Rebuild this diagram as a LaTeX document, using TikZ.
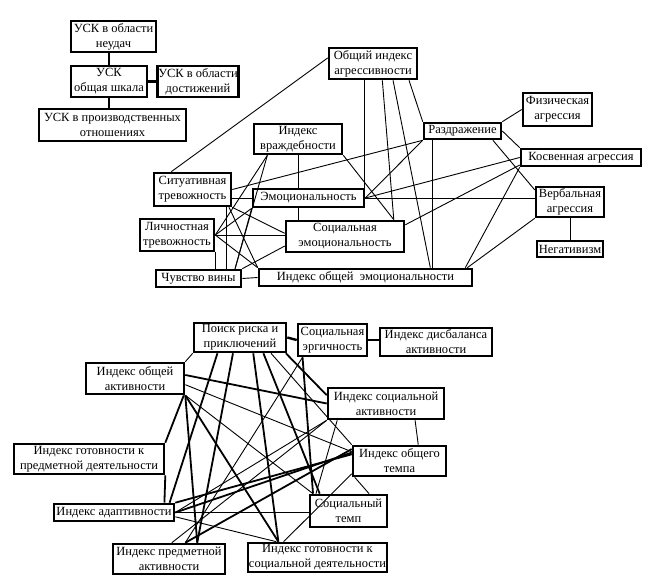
\documentclass[tikz,border=0pt]{standalone}
\usepackage{fontspec}
\setmainfont{Liberation Serif}
\usetikzlibrary{positioning}
\tikzset{
  factor/.style={
    draw=black,
    line width=2.6pt,
    fill=white,
    align=center,
    inner sep=0.5pt,
    font=\fontsize{12.5}{15}\selectfont
  },
  sz/.style 2 args={minimum width=#1pt, minimum height=#2pt},
  tie/.style={line width=2.4pt},
  rel/.style={line width=0.9pt},
  strong/.style={line width=1.8pt},
  weak/.style={line width=0.9pt}
}

\begin{document}
\begin{tikzpicture}[x=1pt, y=-1pt]
  \useasboundingbox (0,0) rectangle (655,588);

  % -------------------------------------------------------------------
  % USK
  % -------------------------------------------------------------------
  \node[factor, sz={85}{31}] (neudach) at (113.5,36.5) {УСК в области\\неудач};
  \node[factor, sz={76}{31}] (obsh) at (109,81.5) {УСК\\общая шкала};
  \node[factor, sz={80}{31}] (dost) at (198,81.5) {УСК в области\\достижений};
  \node[factor, sz={147}{32}] (proizv) at (112.5,125) {УСК в производственных\\отношениях};
  \draw[tie] (obsh.north) -- (obsh.north |- neudach.south);
  \draw[tie] (obsh.east) -- (dost.west);
  \draw[tie] (obsh.south) -- (obsh.south |- proizv.north);

  % -------------------------------------------------------------------
  % emotions and aggression
  % -------------------------------------------------------------------
  \node[factor, sz={88}{31}] (agr) at (373,63.5) {Общий индекс\\агрессивности};
  \node[factor, sz={69}{33}] (fiz) at (557.5,109.5) {Физическая\\агрессия};
  \node[factor, sz={77}{16}] (razdr) at (462.5,131) {Раздражение};
  \node[factor, sz={120}{17}] (kosv) at (581,157.5) {Косвенная агрессия};
  \node[factor, sz={68}{30}] (verb) at (570,202) {Вербальная\\агрессия};
  \node[factor, sz={66}{16}] (neg) at (570,249) {Негативизм};
  \node[factor, sz={88}{30}] (vrazhd) at (298,139) {Индекс\\враждебности};
  \node[factor, sz={77}{33}] (sit) at (192.5,189.5) {Ситуативная\\тревожность};
  \node[factor, sz={111}{18}] (emo) at (308.5,198) {Эмоциональность};
  \node[factor, sz={74}{32}] (lich) at (177,235) {Личностная\\тревожность};
  \node[factor, sz={118}{31}] (semo) at (345,236.5) {Социальная\\эмоциональность};
  \node[factor, sz={85}{17}] (vina) at (198.5,278.5) {Чувство вины};
  \node[factor, sz={213}{17}] (iobem) at (365.5,277.5) {Индекс общей\ \ эмоциональности};

  \draw[rel] (agr.173) -- (sit.140);
  \draw[rel] (agr.244) -- (agr.244 |- emo.north);
  \draw[rel] (agr.299) -- (semo.19);
  \draw[rel] (agr.320) -- ([xshift=-43pt]iobem.north east);
  \draw[rel] (agr.335) -- (razdr.north west);
  \draw[rel] (razdr.north east) -- (fiz.west);
  \draw[rel] (razdr.east) -- (kosv.north west);
  \draw[rel] (razdr.south west) -- (sit.east);
  \draw[rel] (razdr.south west) -- (emo.east);
  \draw[rel] (razdr.197) -- (razdr.197 |- iobem.north);
  \draw[rel] (razdr.343) -- (verb.161);
  \draw[rel] (kosv.west) -- (emo.east);
  \draw[rel] (kosv.187) -- (semo.11);
  \draw[rel] (kosv.south west) -- ([xshift=-8pt]iobem.north east);
  \draw[rel] (emo.east) -- (emo.east -| verb.west);
  \draw[rel] (verb.south west) -- ([xshift=-6pt]iobem.north east);
  \draw[rel] (verb.south) -- (neg.north);
  \draw[rel] (vrazhd.south) -- (vrazhd.south |- emo.north);
  \draw[rel] (vrazhd.south |- emo.south) -- (vrazhd.south |- semo.north);
  \draw[rel] (vrazhd.south east) -- (semo.19);
  \draw[rel] (vrazhd.208) -- (lich.east);
  \draw[rel] (vrazhd.208) -- (vina.15);
  \draw[rel] (emo.west) -- (emo.west -| sit.east);
  \draw[rel] (sit.332) -- (sit.332 |- vina.north);
  \draw[rel] (sit.334) -- (iobem.north west);
  \draw[rel] (sit.south east) -- (semo.177);
  \draw[rel] (lich.east) -- (emo.south west);
  \draw[rel] (lich.east) -- (lich.east -| semo.west);
  \draw[rel] (lich.east) -- (iobem.north west);
  \draw[rel] (lich.south east) -- (lich.south east |- vina.north);
  \draw[rel] (vina.15) -- (emo.south west);
  \draw[rel] (vina.north east) -- (semo.189);
  \draw[rel] (vina.east) -- (iobem.west);

  % -------------------------------------------------------------------
  % activity
  % -------------------------------------------------------------------
  \node[factor, sz={92}{29}] (poisk) at (240,337.5) {Поиск риска и\\приключений};
  \node[factor, sz={69}{32}] (ergich) at (332.5,340) {Социальная\\эргичность};
  \node[factor, sz={112}{28}] (disb) at (436,342) {Индекс дисбаланса\\активности};
  \node[factor, sz={98}{31}] (iobakt) at (135,378.5) {Индекс общей\\активности};
  \node[factor, sz={116}{31}] (isoc) at (386,403.5) {Индекс социальной\\активности};
  \node[factor, sz={150}{30}] (igotpr) at (89,459) {Индекс готовности к\\предметной деятельности};
  \node[factor, sz={93}{30}] (itemp) at (399.5,461) {Индекс общего\\темпа};
  \node[factor, sz={120}{17}] (iadapt) at (114,512.5) {Индекс адаптивности};
  \node[factor, sz={77}{32}] (stemp) at (348.5,511) {Социальный\\темп};
  \node[factor, sz={112}{30}] (ipredakt) at (169,559) {Индекс предметной\\активности};
  \node[factor, sz={139}{29}] (igotsoc) at (317.5,557.5) {Индекс готовности к\\социальной деятельности};

  \draw[tie] (poisk.east) -- (ergich.west);
  \draw[tie] (ergich.east) -- (ergich.east -| disb.west);
  \draw[weak] (poisk.south west) -- (iobakt.north east);
  \draw[weak] (isoc.330) -- (itemp.41);

  \draw[strong] (poisk.215) -- (iadapt.10);
  \draw[strong] (poisk.246) -- (ipredakt.30);
  \draw[strong] (poisk.310) -- (igotsoc.158);
  \draw[strong] (poisk.326) -- (stemp.149);
  \draw[weak] (poisk.333) -- (itemp.north west);
  \draw[strong] (poisk.341) -- (isoc.172);
  \draw[strong] (iobakt.4) -- (isoc.west);
  \draw[weak] (iobakt.353) -- (itemp.169);
  \draw[weak] (iobakt.south east) -- (stemp.154);
  \draw[strong] (iobakt.south east) -- (igotsoc.158);
  \draw[strong] (iobakt.341) -- (igotpr.north east);
  \draw[strong] (iobakt.south east) -- (ipredakt.30);
  \draw[strong] (igotpr.south east) -- (iadapt.11);
  \draw[strong] (ergich.210) -- (stemp.154);
  \draw[weak] (ergich.210) -- (ipredakt.45);
  \draw[weak] (isoc.199) -- (stemp.152);
  \draw[weak] (isoc.south west) -- (ipredakt.80);
  \draw[weak] (isoc.south west) -- (iadapt.east);
  \draw[strong] (itemp.172) -- (iadapt.north east);
  \draw[strong] (itemp.170) -- (iadapt.east);
  \draw[strong] (itemp.166) -- (ipredakt.45);
  \draw[weak] (itemp.200) -- (stemp.40);
  \draw[weak] (itemp.195) -- (igotsoc.155);
  \draw[strong] (iadapt.east) -- (iadapt.east -| stemp.west);
  \draw[weak] (iadapt.356) -- (igotsoc.159);
\end{tikzpicture}
\end{document}
